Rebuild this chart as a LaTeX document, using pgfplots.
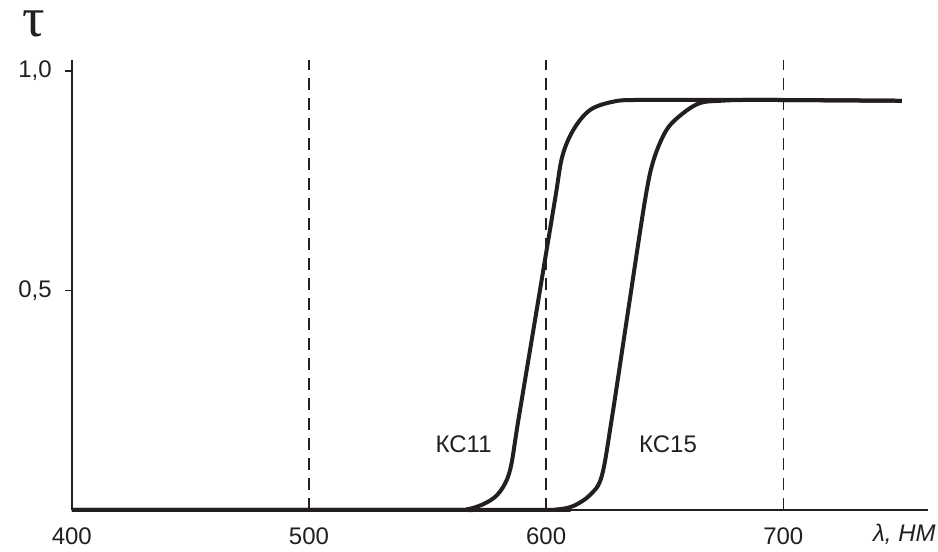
\documentclass[border=0pt]{standalone}
\usepackage{pgfplots}
\pgfplotsset{compat=1.18}
\usepackage{fontspec}
\setmainfont{Liberation Sans}
\newfontfamily\serifgreek{Liberation Serif}
\usetikzlibrary{calc}
\definecolor{ink}{RGB}{35,31,32}
\begin{document}
\begin{tikzpicture}
\begin{axis}[name=ax, scale only axis, width=428.2pt, height=225pt,
  xmin=400, xmax=761, ymin=0, ymax=1.025,
  axis lines=left, axis line style={-, line width=0.9pt, draw=ink},
  xtick={400,500,600,700}, ytick={0.5,1}, yticklabels={{0,5},{1,0}},
  xtick style={draw=none}, ytick style={line width=0.9pt, draw=ink},
  tick align=outside, major tick length=3.5pt,
  ticklabel style={font=\fontsize{12}{14}\selectfont, text=ink},
  /pgf/number format/assume math mode=true,
  xticklabel style={yshift=-2pt},
  yticklabel style={xshift=-3pt},
  clip=false]
\addplot[ink, line width=0.8pt, dash pattern=on 6pt off 4pt] coordinates {(500,0) (500,1.025)};
\addplot[ink, line width=0.8pt, dash pattern=on 6pt off 4pt] coordinates {(600,0) (600,1.025)};
\addplot[ink, line width=0.8pt, dash pattern=on 6pt off 4pt] coordinates {(700,0) (700,1.025)};
\addplot[ink, line width=2pt, smooth, tension=0.55] coordinates {
(400,0) (555,0) (566.4,0.001) (575.0,0.017) (580.6,0.042) (584.8,0.091) (588.3,0.205) (596,0.455) (603.7,0.706) (606.8,0.805) (611.5,0.866) (618.5,0.911) (628.3,0.930) (640,0.934) (690,0.934) (750,0.932)};
\addplot[ink, line width=2pt, smooth, tension=0.55] coordinates {
(400,0) (594,0) (604.5,0.001) (611.5,0.009) (618.5,0.034) (623.4,0.076) (627.6,0.205) (634.6,0.455) (641.7,0.706) (645.3,0.797) (650.8,0.866) (657.8,0.904) (664.9,0.927) (673.3,0.932) (690,0.934) (750,0.932)};
\node[font=\fontsize{12}{14}\selectfont, text=ink] at (axis cs:565.2,0.150) {КС11};
\node[font=\fontsize{12}{14}\selectfont, text=ink] at (axis cs:651.4,0.150) {КС15};
\node[anchor=base east, inner sep=0pt, xshift=4pt, yshift=-15.8pt, font=\itshape\fontsize{12}{14}\selectfont, text=ink] at (rel axis cs:1,0) {λ,~НМ};
\end{axis}
\node[anchor=base, inner sep=0pt, text height=13pt, text depth=0pt, font=\serifgreek\fontsize{28}{28}\selectfont, text=ink] at ($(ax.north west)+(-19pt,11.5pt)$) {τ};
\path ($(ax.south west)+(-35.9pt,-17pt)$) rectangle ($(ax.north east)+(5pt,30pt)$);
\end{tikzpicture}
\end{document}
